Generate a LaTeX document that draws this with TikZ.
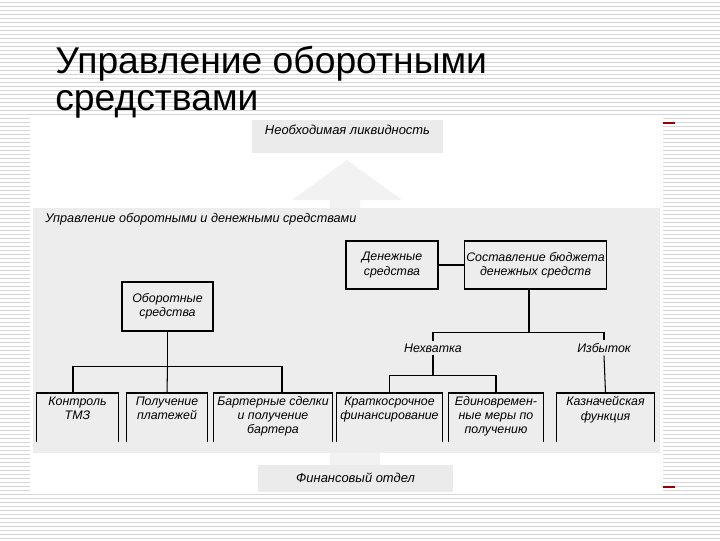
\documentclass[tikz,border=0pt]{standalone}
\usepackage{fontspec}
\setmainfont{Liberation Sans}
\usetikzlibrary{positioning}
\newcommand{\pxu}{0.025cm}

\begin{document}
\begin{tikzpicture}[x=0.025cm, y=-0.025cm,
  stripe/.style={black!16, line width=0.55pt},
  wire/.style={line width=0.75pt},
  cell/.style={draw, line width=0.75pt, fill=black!7, align=center, inner sep=1pt,
    font=\fontsize{8.8}{10}\selectfont\itshape},
  leaf/.style={anchor=north, align=center, inner xsep=0pt, inner ysep=2.5pt,
    font=\fontsize{8.8}{10}\selectfont\itshape},
  tag/.style={inner sep=2pt, font=\fontsize{8.8}{10}\selectfont\itshape},
  plate/.style={fill=black!8, inner sep=0pt, font=\fontsize{9.2}{11}\selectfont\itshape}]
  \useasboundingbox (0,0) rectangle (720,540);

  % Lined slide background
  \fill[white] (0,0) rectangle (720,540);
  \foreach \y in {2,6,...,538}
    \draw[stripe] (0,\y) -- (720,\y);

  % Title
  \node[anchor=base west, inner sep=0pt, font=\fontsize{26.5}{30}\selectfont]
    (title) at (55,73) {Управление оборотными};
  \node[anchor=base west, inner sep=0pt, font=\fontsize{26.5}{30}\selectfont]
    (title2) at (55,110) {средствами};

  % White panel and grey area
  \fill[white] (30,118) rectangle (663,493);
  \fill[black!7] (33,208) rectangle (660,453);
  \node[anchor=base west, inner sep=0pt, font=\fontsize{9}{11}\selectfont\itshape]
    (area) at (45,222) {Управление оборотными и денежными средствами};

  % Big arrow up, small shaft down
  \fill[black!5] (330,208) -- (330,200) -- (292,200) -- (347,160)
    -- (402,200) -- (360,200) -- (360,208) -- cycle;
  \fill[black!5] (330,453) rectangle (380,465);

  % Top and bottom plates
  \node[plate, minimum width=191*\pxu, text height=10pt, text depth=13.5pt]
    (need) at (347.5,136.5) {Необходимая ликвидность};
  \node[plate, minimum width=195*\pxu, text height=12pt, text depth=7pt]
    (fin) at (355.5,478.5) {Финансовый отдел};

  % Boxes
  \node[cell, minimum width=92*\pxu, minimum height=48*\pxu]
    (cash) at (392,265) {Денежные\\средства};
  \node[cell, minimum width=137*\pxu, minimum height=48*\pxu]
    (budget) at (535.5,265) {Составление бюджета\\денежных средств};
  \node[cell, minimum width=91*\pxu, minimum height=49*\pxu]
    (funds) at (167.5,306.5) {Оборотные\\средства};

  \node[tag] (short) at (433,348) {Нехватка};
  \node[tag] (surplus) at (604,348) {Избыток};

  % Leaves (open at the bottom)
  \node[leaf, minimum width=81*\pxu] (ctrl) at (77.5,393) {Контроль\\ТМЗ};
  \node[leaf, minimum width=80*\pxu] (pay) at (167,393) {Получение\\платежей};
  \node[leaf, minimum width=118*\pxu] (barter) at (273,393)
    {Бартерные сделки\\и получение\\бартера};
  \node[leaf, minimum width=105*\pxu] (kfin) at (389.5,393)
    {Краткосрочное\\финансирование};
  \node[leaf, minimum width=94*\pxu] (once) at (496,393)
    {Единовремен-\\ные меры по\\получению};
  \node[leaf, minimum width=97*\pxu] (treas) at (605.5,393)
    {Казначейская\\функция};
  \foreach \n in {ctrl,pay,barter,kfin,once,treas}
    \draw[wire] (\n.north west) ++(0,49) -- (\n.north west)
      -- (\n.north east) -- ++(0,49);

  % Connectors
  \draw[wire] (cash) -- (budget);
  \draw[wire] ([xshift=-6.5*\pxu]budget.south) -- ++(0,43) coordinate (bj);
  \draw[wire] (short.north) |- (bj);
  \draw[wire] (surplus.north) |- (bj);
  \draw[wire] (short.south) -- ++(0,20) coordinate (sj);
  \draw[wire] (kfin.north) |- (sj);
  \draw[wire] (once.north) |- (sj);
  \draw[wire] (surplus.south) -- (treas.north);
  \draw[wire] (funds.south) -- ++(0,35) coordinate (fj);
  \draw[wire] ([xshift=-4.5*\pxu]ctrl.north) |- (fj);
  \draw[wire] ([xshift=9*\pxu]barter.north) |- (fj);
  \draw[wire] (pay.north) -- (fj);

  % Red marks at the panel edge
  \draw[red!60!black, line width=0.8pt] (663,123) -- (675,123);
  \draw[red!60!black, line width=0.8pt] (663,487) -- (675,487);
\end{tikzpicture}
\end{document}
